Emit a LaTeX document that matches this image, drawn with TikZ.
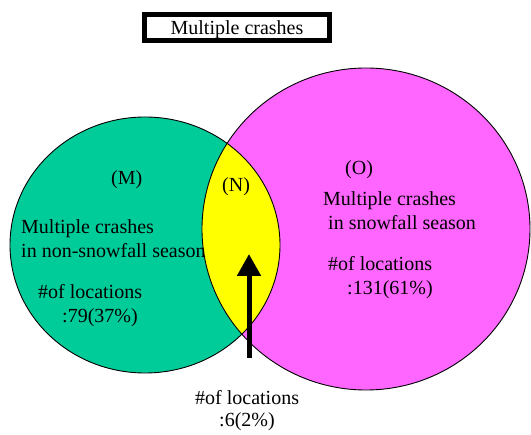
\documentclass[tikz,border=0pt]{standalone}
\usepackage{fontspec}
\setmainfont{Liberation Serif}
\usetikzlibrary{arrows.meta}
\definecolor{vennGreen}{RGB}{0,204,153}
\definecolor{vennPink}{RGB}{255,102,255}
\definecolor{vennYellow}{RGB}{255,255,0}
\newcommand{\leftSet}{(145,245) ellipse [x radius=135, y radius=128]}
\newcommand{\rightSet}{(366,229) ellipse [x radius=164, y radius=161]}

\begin{document}
\begin{tikzpicture}[
    x=1pt, y=-1pt,
    font=\fontsize{20}{24}\selectfont,
    txt/.style={anchor=base west, inner sep=0pt},
    ring/.style={draw=black, line width=0.9pt},
    arr/.style={-{Triangle[width=23pt, length=22pt]}, line width=5pt},
  ]
    \useasboundingbox (0,0) rectangle (531,435);
    % the two sets and their overlap
    \fill[vennGreen] \leftSet;
    \fill[vennPink] \rightSet;
    \begin{scope}
      \clip \leftSet;
      \fill[vennYellow] \rightSet;
    \end{scope}
    \draw[ring] \leftSet;
    \draw[ring] \rightSet;
    % heading
    \node[draw, line width=5pt, fill=white, minimum width=185pt, minimum height=26pt,
          inner sep=0pt, text height=17pt, text depth=2pt] (title) at (237,27.5) {Multiple crashes};
    % labels
    \node[txt] (mLabel) at (111,185) {(M)};
    \node[txt] (nLabel) at (222,192) {(N)};
    \node[txt] (oLabel) at (345,175) {(O)};
    \node[txt] (mTitle) at (21,234) {Multiple crashes};
    \node[txt] (mSeason) at (21,258) {in non-snowfall season};
    \node[txt] (mCount) at (38,299) {\#of locations};
    \node[txt] (mValue) at (62,323) {:79(37\%)};
    \node[txt] (oTitle) at (323,206) {Multiple crashes};
    \node[txt] (oSeason) at (328,230) {in snowfall season};
    \node[txt] (oCount) at (328,271) {\#of locations};
    \node[txt] (oValue) at (347,295) {:131(61\%)};
    \node[txt] (nCount) at (195,405) {\#of locations};
    \node[txt] (nValue) at (219,427) {:6(2\%)};
    % pointer to the overlap
    \coordinate (arrBase) at (249,358);
    \coordinate (arrTip) at (249,254);
    \draw[arr] (arrBase) -- (arrTip);
  \end{tikzpicture}
\end{document}
